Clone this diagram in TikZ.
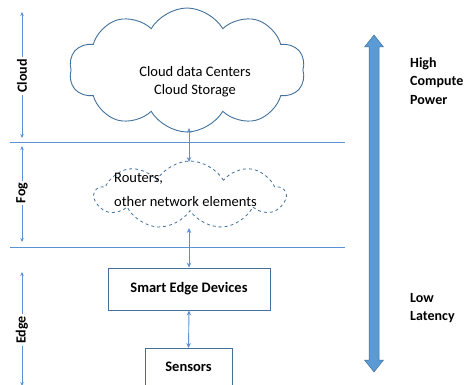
\documentclass[tikz,border=0pt]{standalone}
\usepackage{fontspec}
\setmainfont{Carlito}
\usetikzlibrary{shapes.symbols,arrows.meta}
\definecolor{lineblue}{RGB}{91,146,212}
\definecolor{edgeblue}{RGB}{65,113,156}
\definecolor{fillblue}{RGB}{91,155,213}
\tikzset{
  layerline/.style={draw=lineblue, line width=1pt},
  tierarrow/.style={draw=lineblue, line width=0.6pt, {Stealth[length=4pt,width=3.5pt]}-{Stealth[length=4pt,width=3.5pt]}},
  link/.style={draw=lineblue, line width=0.9pt, {Stealth[length=5pt,width=4.5pt]}-{Stealth[length=5pt,width=4.5pt]}},
  tierlabel/.style={rotate=90, fill=white, inner sep=2pt, font=\bfseries\fontsize{14}{16}\selectfont},
  devbox/.style={draw=edgeblue, line width=0.9pt, fill=white, font=\bfseries\fontsize{14.5}{16}\selectfont},
  sidetext/.style={align=left, anchor=north west, font=\bfseries\fontsize{14}{18.5}\selectfont, inner sep=0pt},
}
\begin{document}
\begin{tikzpicture}[x=1pt, y=-1pt]
\useasboundingbox (0,0) rectangle (466,385);

% layer boundaries
\coordinate (l1a) at (10,143); \coordinate (l1b) at (345,143);
\coordinate (l2a) at (10,247); \coordinate (l2b) at (345,247);
\draw[layerline] (l1a) -- (l1b);
\draw[layerline] (l2a) -- (l2b);

% tier extents on the left
\coordinate (ct) at (22,12);  \coordinate (cb) at (22,138);
\coordinate (ft) at (22,146); \coordinate (fb) at (22,242);
\coordinate (et) at (22,272); \coordinate (eb) at (22,386);
\draw[tierarrow] (ct) -- (cb);
\draw[tierarrow] (ft) -- (fb);
\draw[tierarrow] (et) -- (eb);
\node[tierlabel] (cloudlbl) at (22,76) {Cloud};
\node[tierlabel] (foglbl) at (22,193) {Fog};
\node[tierlabel] (edgelbl) at (22,330) {Edge};

% cloud tier
\node[cloud, cloud puffs=10, cloud puff arc=120, aspect=2, draw=edgeblue, line width=0.9pt, fill=white,
      minimum width=236pt, minimum height=124pt, inner sep=0pt] (dc) at (187,70) {};
\node[align=center, font=\fontsize{14.5}{18}\selectfont, inner sep=0pt] (dctxt) at (195,82)
  {Cloud data Centers\\Cloud Storage};

% fog tier
\node[cloud, cloud puffs=9, cloud puff arc=120, aspect=3, draw=edgeblue, dashed, line width=0.8pt, fill=white,
      minimum width=190pt, minimum height=68pt, inner sep=0pt] (fog) at (190,195) {};
\node[align=left, anchor=west, font=\fontsize{14.5}{24}\selectfont, inner sep=0pt] (fogtxt) at (114,190)
  {Routers,\\other network elements};

% edge tier
\node[devbox, minimum width=162pt, minimum height=42pt] (sed) at (189,289) {Smart Edge Devices};
\node[devbox, minimum width=87pt, minimum height=42pt, anchor=north] (sens) at (188.5,348) {};
\node[font=\bfseries\fontsize{14.5}{16}\selectfont] (senstxt) at (188.5,367) {Sensors};

% vertical links
\coordinate (dcbot) at (189,128);
\coordinate (fogtop) at (189,162);
\coordinate (fogbot) at (189,228);
\draw[link] (dcbot) -- (fogtop);
\draw[link] (fogbot) -- (sed.north);
\draw[link] (sed.south) -- (sens.north);

% compute / latency scale
\coordinate (at) at (374,35);
\coordinate (ab) at (374,372);
\fill[fillblue, draw=edgeblue, line width=0.5pt]
  (at) -- ++(9.5,12) -- ++(-4.5,0) -- (379,360) -- ++(4.5,0) -- (ab) -- ++(-9.5,-12) -- ++(4.5,0)
  -- (369,47) -- ++(-4.5,0) -- cycle;
\node[sidetext] (hcp) at (410,57) {High\\Compute\\Power};
\node[sidetext] (ll) at (410,293) {Low\\Latency};
\end{tikzpicture}
\end{document}
